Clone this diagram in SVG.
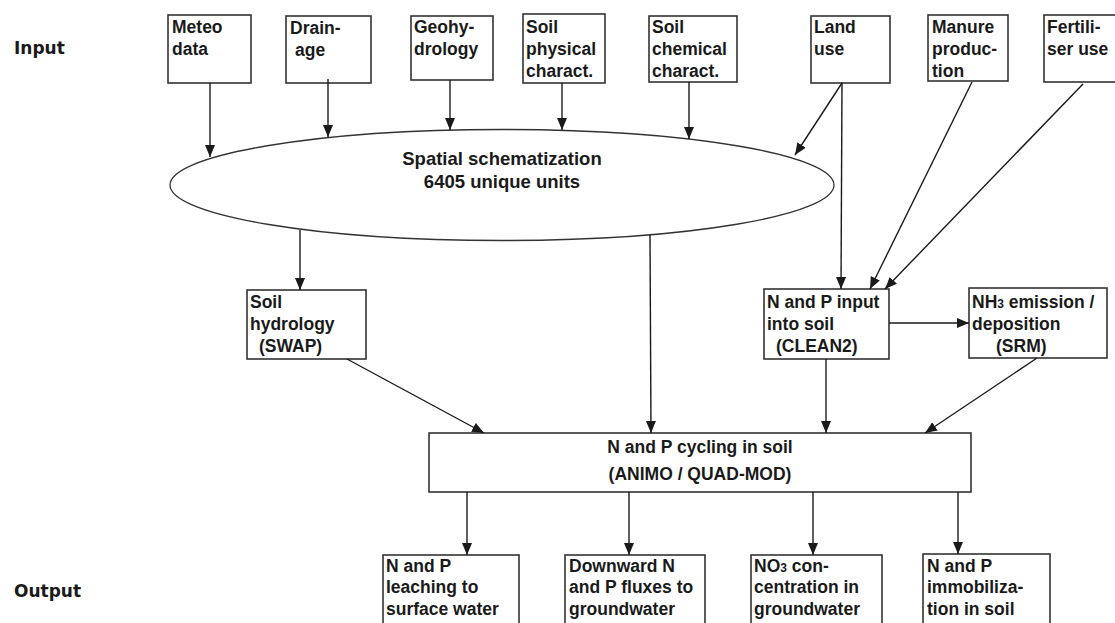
<svg xmlns="http://www.w3.org/2000/svg" width="1115" height="623" viewBox="0 0 1115 623">
  <defs>
    <marker id="arrow" markerUnits="userSpaceOnUse" markerWidth="13" markerHeight="11" refX="12" refY="5" orient="auto">
      <path d="M0,0 L12,5 L0,10 z" fill="#1a1a1a"/>
    </marker>
    <style>
      .box { fill: #ffffff; stroke: #333333; stroke-width: 1.6; }
      .oval { fill: #ffffff; stroke: #333333; stroke-width: 1.3; }
      .t { font-family: "Liberation Sans", Arial, sans-serif; font-weight: bold; font-size: 17.5px; fill: #1a1a1a; }
      .tc { text-anchor: middle; }
      .big { font-size: 18.5px; }
      .sub { font-size: 12px; }
      .side { font-family: "DejaVu Sans", "Liberation Sans", sans-serif; font-weight: bold; font-size: 17px; fill: #1a1a1a; }
      .c { stroke: #1a1a1a; stroke-width: 1.4; fill: none; marker-end: url(#arrow); }
    </style>
  </defs>
  <rect width="1115" height="623" fill="#ffffff"/>

  <!-- row labels -->
  <text class="side" x="14" y="54">Input</text>
  <text class="side" x="14" y="597">Output</text>

  <!-- input boxes -->
  <g id="meteo">
    <rect class="box" x="168" y="15" width="83" height="68"/>
    <text class="t" x="172" y="33">Meteo</text>
    <text class="t" x="172" y="55">data</text>
  </g>
  <g id="drainage">
    <rect class="box" x="286" y="16" width="85" height="67"/>
    <text class="t" x="290" y="34">Drain-</text>
    <text class="t" x="295" y="56">age</text>
  </g>
  <g id="geohydrology">
    <rect class="box" x="411" y="16" width="82" height="64"/>
    <text class="t" x="414" y="33">Geohy-</text>
    <text class="t" x="414" y="55">drology</text>
  </g>
  <g id="soil-physical">
    <rect class="box" x="523" y="14" width="82" height="69"/>
    <text class="t" x="526" y="33">Soil</text>
    <text class="t" x="526" y="55">physical</text>
    <text class="t" x="526" y="77">charact.</text>
  </g>
  <g id="soil-chemical">
    <rect class="box" x="649" y="16" width="88" height="66"/>
    <text class="t" x="652" y="33">Soil</text>
    <text class="t" x="652" y="55">chemical</text>
    <text class="t" x="652" y="77">charact.</text>
  </g>
  <g id="land-use">
    <rect class="box" x="811" y="16" width="79" height="67"/>
    <text class="t" x="814" y="33">Land</text>
    <text class="t" x="814" y="55">use</text>
  </g>
  <g id="manure">
    <rect class="box" x="928" y="15" width="80" height="66"/>
    <text class="t" x="932" y="33">Manure</text>
    <text class="t" x="932" y="55">produc-</text>
    <text class="t" x="932" y="77">tion</text>
  </g>
  <g id="fertiliser">
    <rect class="box" x="1044" y="15" width="75" height="67"/>
    <text class="t" x="1047" y="33">Fertili-</text>
    <text class="t" x="1047" y="55">ser use</text>
  </g>

  <!-- schematization -->
  <g id="schematization">
    <ellipse class="oval" cx="502" cy="185" rx="332" ry="55.5"/>
    <text class="t tc big" x="502" y="165">Spatial schematization</text>
    <text class="t tc big" x="502" y="188">6405 unique units</text>
  </g>

  <!-- intermediate models -->
  <g id="swap">
    <rect class="box" x="247" y="290" width="119" height="69"/>
    <text class="t" x="250" y="308">Soil</text>
    <text class="t" x="250" y="330">hydrology</text>
    <text class="t" x="259" y="352">(SWAP)</text>
  </g>
  <g id="clean2">
    <rect class="box" x="764" y="289" width="125" height="70"/>
    <text class="t" x="767" y="308">N and P input</text>
    <text class="t" x="767" y="330">into soil</text>
    <text class="t" x="776" y="352">(CLEAN2)</text>
  </g>
  <g id="srm">
    <rect class="box" x="969" y="288" width="138" height="70"/>
    <text class="t" x="972" y="308">NH<tspan class="sub">3</tspan> emission /</text>
    <text class="t" x="972" y="330">deposition</text>
    <text class="t" x="996" y="352">(SRM)</text>
  </g>

  <!-- soil cycling model -->
  <g id="animo">
    <rect class="box" x="429" y="433" width="542" height="59"/>
    <text class="t tc" x="700" y="453">N and P cycling in soil</text>
    <text class="t tc" x="700" y="480">(ANIMO / QUAD-MOD)</text>
  </g>

  <!-- outputs -->
  <g id="leaching">
    <rect class="box" x="383" y="555" width="136" height="80"/>
    <text class="t" x="386" y="572">N and P</text>
    <text class="t" x="386" y="593">leaching to</text>
    <text class="t" x="386" y="615">surface water</text>
  </g>
  <g id="downward">
    <rect class="box" x="565" y="555" width="140" height="80"/>
    <text class="t" x="569" y="572">Downward N</text>
    <text class="t" x="569" y="593">and P fluxes to</text>
    <text class="t" x="569" y="615">groundwater</text>
  </g>
  <g id="no3">
    <rect class="box" x="751" y="555" width="131" height="80"/>
    <text class="t" x="754" y="572">NO<tspan class="sub">3</tspan> con-</text>
    <text class="t" x="754" y="593">centration in</text>
    <text class="t" x="754" y="615">groundwater</text>
  </g>
  <g id="immobilization">
    <rect class="box" x="923" y="554" width="127" height="80"/>
    <text class="t" x="927" y="572">N and P</text>
    <text class="t" x="927" y="593">immobiliza-</text>
    <text class="t" x="927" y="615">tion in soil</text>
  </g>

  <!-- connectors -->
  <g id="connectors">
    <line class="c" x1="210" y1="83" x2="210" y2="157"/>
    <line class="c" x1="328" y1="79" x2="328" y2="137"/>
    <line class="c" x1="450" y1="80" x2="450" y2="130"/>
    <line class="c" x1="562" y1="83" x2="562" y2="130"/>
    <line class="c" x1="689" y1="82" x2="689" y2="139"/>
    <line class="c" x1="842" y1="83" x2="795" y2="155"/>
    <line class="c" x1="842" y1="83" x2="841" y2="289"/>
    <line class="c" x1="972" y1="82" x2="870" y2="289"/>
    <line class="c" x1="1083" y1="84" x2="885" y2="289"/>
    <line class="c" x1="300" y1="230" x2="300" y2="290"/>
    <line class="c" x1="650" y1="235" x2="651" y2="433"/>
    <line class="c" x1="347" y1="359" x2="484" y2="433"/>
    <line class="c" x1="889" y1="323" x2="969" y2="323"/>
    <line class="c" x1="826" y1="359" x2="826" y2="433"/>
    <line class="c" x1="1037" y1="358" x2="925" y2="433"/>
    <line class="c" x1="467" y1="492" x2="467" y2="555"/>
    <line class="c" x1="629" y1="492" x2="629" y2="555"/>
    <line class="c" x1="813" y1="492" x2="813" y2="555"/>
    <line class="c" x1="958" y1="492" x2="958" y2="554"/>
  </g>
</svg>
